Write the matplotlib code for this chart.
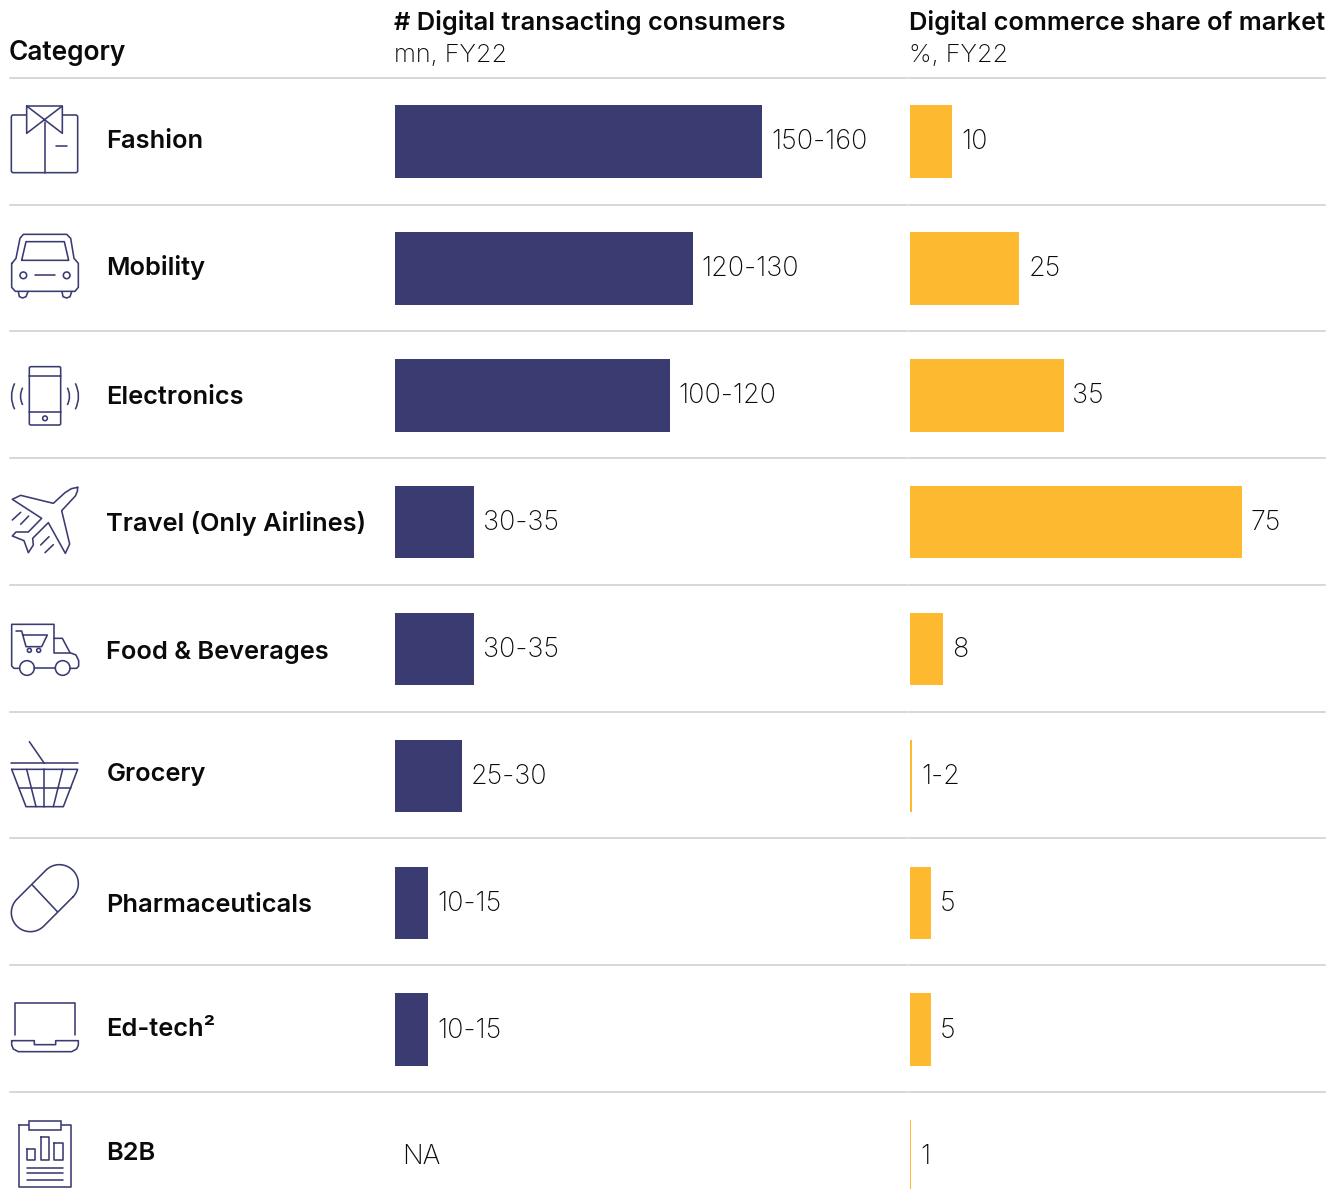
import matplotlib
matplotlib.use('Agg')
import numpy as np
import matplotlib.pyplot as plt
from matplotlib.patches import Circle, FancyBboxPatch, PathPatch, Rectangle
from matplotlib.path import Path

plt.rcParams['font.family'] = ['Inter', 'Roboto', 'DejaVu Sans']

categories = ['Fashion', 'Mobility', 'Electronics', 'Travel (Only Airlines)', 'Food & Beverages',
              'Grocery', 'Pharmaceuticals', 'Ed-tech²', 'B2B']
consumers = [153, 124, 114.5, 33, 33, 28, 13.8, 13.8, 0]
consumer_labels = ['150-160', '120-130', '100-120', '30-35', '30-35', '25-30', '10-15', '10-15', 'NA']
share = [9.5, 24.7, 34.7, 75, 7.5, 0.5, 4.7, 4.7, 0.3]
share_labels = ['10', '25', '35', '75', '8', '1-2', '5', '5', '1']

NAVY = '#393b71'
YELLOW = '#fdb92f'
RULE = '#cdcdcd'
INK = '#0a0a0a'
W, H = 1340, 1189
VAL_SIZE = 19.4
SUB_SIZE = 18.2
HEAD_SIZE = 18.3

label_y = [141.5, 267, 398, 523, 652.5, 775, 905.5, 1029.5, 1153.5]
rule_y = [77.5, 204.5, 331, 458, 584.5, 711.5, 838, 965, 1091.5]

fig = plt.figure(figsize=(W / 100, H / 100), dpi=100)


def panel(left, right):
    top, bottom = 78, 78 + 9 * 126.9
    ax = fig.add_axes([left / W, 1 - bottom / H, (right - left) / W, (bottom - top) / H])
    ax.set_ylim(8.5, -0.5)
    ax.axis('off')
    return ax


ax1 = panel(395, 905)
ax1.set_xlim(0, 510 / 2.4)
ax1.barh(range(9), consumers, height=0.572, color=NAVY)
for i, (v, s) in enumerate(zip(consumers, consumer_labels)):
    ax1.annotate(s, (v, i), xytext=(6.3 if v else 5.2, -0.6), textcoords='offset points', va='center',
                 fontsize=VAL_SIZE, fontweight='light', color=INK)

ax2 = panel(910, 1325)
ax2.set_xlim(0, 415 / 4.43)
ax2.barh(range(9), share, height=0.572, color=YELLOW)
for i, (v, s) in enumerate(zip(share, share_labels)):
    ax2.annotate(s, (v, i), xytext=(6.3, -0.6), textcoords='offset points', va='center',
                 fontsize=VAL_SIZE, fontweight='light', color=INK)

# overlay in pixels, for rules, headers and the icons
ov = fig.add_axes([0, 0, 1, 1], zorder=5)
ov.set_xlim(0, W)
ov.set_ylim(H, 0)
ov.axis('off')

for y in rule_y:
    ov.plot([10, 907], [y, y], color=RULE, lw=1.1)
    ov.plot([909, 1325], [y, y], color=RULE, lw=1.1)

ov.text(9, 60, 'Category', fontsize=18.9, fontweight='semibold', color=INK, va='baseline')
ov.text(394, 30, '# Digital transacting consumers', fontsize=HEAD_SIZE, fontweight='semibold', color=INK, va='baseline')
ov.text(394, 62, 'mn, FY22', fontsize=SUB_SIZE, fontweight='light', color=INK, va='baseline')
ov.text(909, 30, 'Digital commerce share of market', fontsize=HEAD_SIZE, fontweight='semibold', color=INK, va='baseline')
ov.text(909, 62, '%, FY22', fontsize=SUB_SIZE, fontweight='light', color=INK, va='baseline')

for name, y in zip(categories, label_y):
    ov.text(106.5, y, name, fontsize=HEAD_SIZE, fontweight='semibold', color=INK, va='center')

LW = 1.15


def line(pts, oy, closed=False):
    p = np.array(pts, dtype=float) / 3 + [0, oy]
    if closed:
        p = np.vstack([p, p[0]])
    ov.plot(p[:, 0], p[:, 1], color=NAVY, lw=LW, solid_joinstyle='round', solid_capstyle='round')


def circle(x, y, r, oy):
    ov.add_patch(Circle((x / 3, y / 3 + oy), r / 3, fill=False, ec=NAVY, lw=LW))


def rrect(x0, y0, x1, y1, oy, pad=2.0, fc='none'):
    ov.add_patch(FancyBboxPatch((x0 / 3 + pad, y0 / 3 + oy + pad), (x1 - x0) / 3 - 2 * pad, (y1 - y0) / 3 - 2 * pad,
                                boxstyle='round,pad=%g,rounding_size=%g' % (pad, pad), fc=fc, ec=NAVY, lw=LW))


def curve(a, b, c, oy):
    verts = [(a[0] / 3, a[1] / 3 + oy), (b[0] / 3, b[1] / 3 + oy), (c[0] / 3, c[1] / 3 + oy)]
    ov.add_patch(PathPatch(Path(verts, [Path.MOVETO, Path.CURVE3, Path.CURVE3]), fill=False, ec=NAVY, lw=LW))


# shirt
oy = 90
rrect(34, 75, 233, 248, oy)
ov.add_patch(Rectangle((27, 106), 36, 27, fc='white', ec='none', zorder=2))
line([(80, 48), (187, 130), (187, 48), (80, 130)], oy, closed=True)
line([(80, 48), (187, 48)], oy)
line([(134, 97), (134, 248)], oy)
line([(168, 168), (200, 168)], oy)

# car
line([(36, 520), (48, 505), (60, 445), (70, 433), (200, 433), (212, 445), (222, 505), (235, 520), (235, 592),
      (225, 604), (46, 604), (35, 592), (35, 520)], oy)
line([(65, 511), (78, 455), (193, 455), (206, 511)], oy, closed=True)
circle(70, 556, 10, oy)
circle(200, 556, 10, oy)
line([(104, 556), (166, 556)], oy)
line([(55, 605), (58, 620), (68, 624), (78, 620), (84, 605)], oy)
line([(186, 605), (189, 620), (200, 624), (210, 620), (215, 605)], oy)

# phone
rrect(88, 830, 182, 1005, oy, pad=1.5)
line([(88, 858), (182, 858)], oy)
line([(88, 965), (182, 965)], oy)
circle(135, 985, 7, oy)
curve((44, 880), (25, 919), (44, 958), oy)
curve((68, 893), (55, 919), (68, 945), oy)
curve((226, 880), (245, 919), (226, 958), oy)
curve((202, 893), (215, 919), (202, 945), oy)

# plane
oy = 470
line([(233, 52), (232, 64), (226, 78), (185, 122), (209, 222), (196, 250), (145, 158), (98, 205), (100, 225), (85, 248),
      (72, 212), (37, 198), (48, 186), (85, 186), (125, 145), (37, 88), (62, 76), (160, 100), (195, 68), (214, 56)], oy,
     closed=True)
line([(37, 150), (62, 127)], oy)
line([(62, 163), (86, 138)], oy)
line([(122, 225), (147, 200)], oy)
line([(135, 248), (160, 224)], oy)

# truck with cart
line([(58, 595), (42, 595), (35, 588), (35, 463), (162, 463), (162, 505), (187, 505), (210, 548), (228, 555),
      (236, 572), (236, 588), (230, 595), (210, 595)], oy)
line([(103, 595), (165, 595)], oy)
line([(162, 505), (162, 548), (210, 548)], oy)
circle(81, 594, 22, oy)
circle(188, 594, 22, oy)
line([(48, 483), (65, 483), (78, 530), (125, 530), (142, 495), (68, 495)], oy)
circle(88, 541, 6, oy)
circle(116, 541, 6, oy)

# basket
line([(88, 815), (133, 880)], oy)
line([(33, 880), (233, 880)], oy)
line([(35, 898), (233, 898), (190, 1010), (78, 1010)], oy, closed=True)
line([(57, 955), (212, 955)], oy)
line([(80, 898), (108, 1010)], oy)
line([(133, 898), (133, 1010)], oy)
line([(188, 898), (160, 1010)], oy)

# pill
oy = 850
t = np.radians(np.linspace(-45, 135, 40))
cap = np.c_[178 + 57 * np.cos(t), 101 - 57 * np.sin(t)]
t2 = np.radians(np.linspace(135, 315, 40))
cap2 = np.c_[91 + 57 * np.cos(t2), 188 - 57 * np.sin(t2)]
line(np.vstack([cap, cap2]), oy, closed=True)
line([(97, 105), (172, 185)], oy)

# laptop
line([(45, 555), (45, 458), (224, 458), (224, 555)], oy)
line([(35, 572), (103, 572), (103, 584), (167, 584), (167, 572), (235, 572), (235, 585), (230, 597), (215, 605),
      (55, 605), (40, 597), (35, 585)], oy, closed=True)

# clipboard
line([(56, 826), (213, 826), (213, 1012), (56, 1012)], oy, closed=True)
ov.add_patch(Rectangle((86 / 3, 812 / 3 + oy), 97 / 3, 28 / 3, fc='white', ec=NAVY, lw=LW, zorder=3))
for x0, y0, x1 in [(80, 896, 105), (122, 860, 148), (163, 880, 189)]:
    line([(x0, y0), (x1, y0), (x1, 930), (x0, 930)], oy, closed=True)
for y in [953, 970, 989]:
    line([(81, y), (188, y)], oy)

fig.savefig('out.png', dpi=100)
